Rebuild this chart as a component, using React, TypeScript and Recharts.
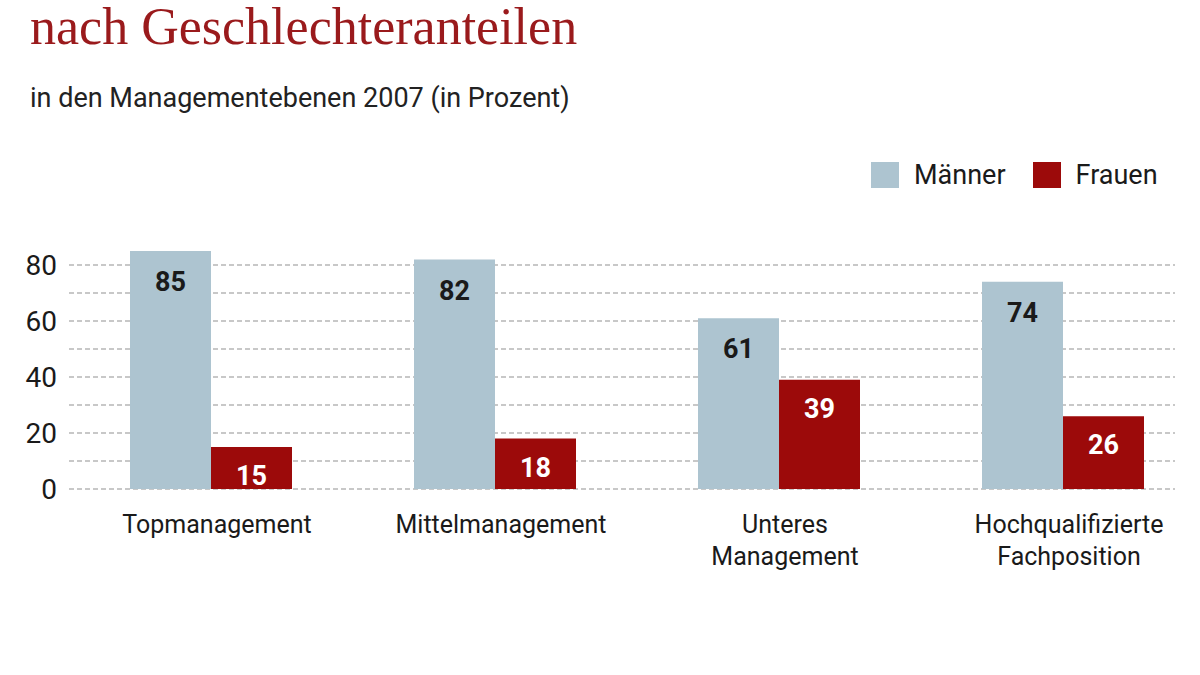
import { Bar, BarChart, CartesianGrid, LabelList, XAxis, YAxis } from "recharts";

const categories = ["Topmanagement", "Mittelmanagement", "Unteres Management", "Hochqualifizierte Fachposition"];
const tickLines = [["Topmanagement"], ["Mittelmanagement"], ["Unteres", "Management"], ["Hochqualifizierte", "Fachposition"]];
const maenner = [85, 82, 61, 74];
const frauen = [15, 18, 39, 26];
const yTicks = [0, 20, 40, 60, 80];
const gridValues = [0, 10, 20, 30, 40, 50, 60, 70, 80];

const data = categories.map((c, i) => ({ name: c, maenner: maenner[i], frauen: frauen[i] }));

const BLUE = "#adc4d0";
const RED = "#9c0a0a";

const CategoryTick = (props: any) => {
    const { x, y, index } = props;
    const lines = tickLines[index] || [];
    return (
        <text x={x + 6} y={y} textAnchor="middle" fill="#1a1a1a" fontSize={25} fontFamily="Roboto">
            {lines.map((l, i) => (
                <tspan key={i} x={x + 6} dy={i === 0 ? 36 : 32}>{l}</tspan>
            ))}
        </text>
    );
};

// legend drawn as plain html so it does not eat into the plot area
const LegendBox = () => (
    <div style={{ position: "absolute", left: 871, top: 159, display: "flex", alignItems: "center", fontSize: 27, color: "#1a1a1a", whiteSpace: "nowrap" }}>
        <span style={{ width: 28, height: 26, background: BLUE, display: "inline-block", marginRight: 15 }} />
        <span style={{ marginRight: 27 }}>Männer</span>
        <span style={{ width: 28, height: 26, background: RED, display: "inline-block", marginRight: 15 }} />
        <span>Frauen</span>
    </div>
);

const App = () => {
    return (
        <div style={{ position: "absolute", left: 0, top: 0, width: 1200, height: 675, background: "#fff", fontFamily: "Roboto" }}>
            <div style={{ position: "absolute", left: 30, top: -3, fontFamily: "'Liberation Serif', serif", fontSize: 52, color: "#9a1a1c", lineHeight: "60px", whiteSpace: "nowrap" }}>
                nach Geschlechteranteilen
            </div>
            <div style={{ position: "absolute", left: 30, top: 82, fontSize: 27, color: "#222", whiteSpace: "nowrap" }}>
                in den Managementebenen 2007 (in Prozent)
            </div>
            <LegendBox />
            <BarChart
                width={1200}
                height={675}
                data={data}
                margin={{ top: 251, right: 25, bottom: 156, left: 0 }}
                barGap={0}
                barSize={81}
            >
                <CartesianGrid
                    vertical={false}
                    horizontalValues={gridValues}
                    stroke="#c8c8c8"
                    strokeWidth={2}
                    strokeDasharray="5 3"
                />
                <XAxis
                    dataKey="name"
                    axisLine={false}
                    tickLine={false}
                    interval={0}
                    padding={{ left: 0, right: -30 }}
                    tick={<CategoryTick />}
                />
                <YAxis
                    width={69}
                    domain={[0, 85]}
                    ticks={yTicks}
                    axisLine={false}
                    tickLine={false}
                    tick={{ fontSize: 28, fill: "#1a1a1a", fontFamily: "Roboto", dx: -4 }}
                />
                <Bar dataKey="maenner" name="Männer" fill={BLUE} isAnimationActive={false}>
                    <LabelList dataKey="maenner" position="insideTop" offset={21} fill="#1a1a1a" fontSize={27} fontWeight="bold" fontFamily="Roboto" />
                </Bar>
                <Bar dataKey="frauen" name="Frauen" fill={RED} isAnimationActive={false}>
                    <LabelList dataKey="frauen" position="insideTop" offset={19} fill="#fff" fontSize={27} fontWeight="bold" fontFamily="Roboto" />
                </Bar>
            </BarChart>
        </div>
    );
};

export default App;
